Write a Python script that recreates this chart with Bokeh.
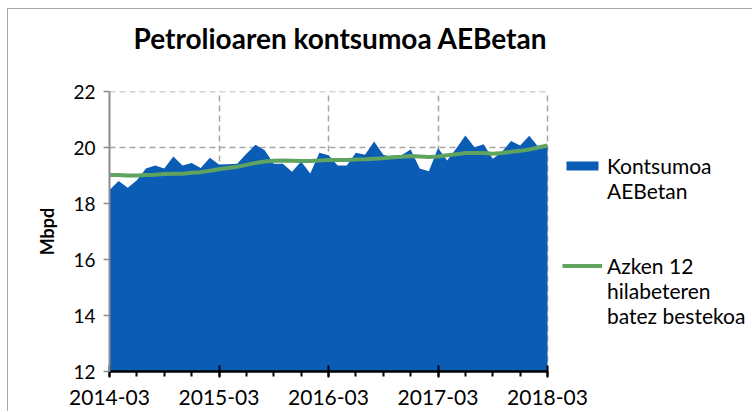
from bokeh.plotting import figure
from bokeh.models import (FixedTicker, Legend, LegendItem, Range1d, ColumnDataSource, Title)
from bokeh.embed import file_html
from bokeh.resources import INLINE

# ---- data ----
tick_labels = ["2014-03", "2015-03", "2016-03", "2017-03", "2018-03"]
months_count = 49  # 2014-03 .. 2018-03 monthly
consumption = [18.48, 18.80, 18.56, 18.83, 19.25, 19.36, 19.25, 19.68, 19.36, 19.45,
               19.27, 19.63, 19.39, 19.40, 19.42, 19.78, 20.10, 19.90, 19.42, 19.42,
               19.13, 19.50, 19.07, 19.81, 19.72, 19.36, 19.36, 19.81, 19.74, 20.21,
               19.74, 19.66, 19.72, 19.93, 19.25, 19.15, 19.98, 19.54, 19.96, 20.43,
               20.01, 20.12, 19.60, 19.84, 20.23, 20.07, 20.42, 20.02, 20.03]
moving_avg = [19.02, 19.02, 19.00, 19.00, 19.02, 19.03, 19.05, 19.06, 19.06, 19.10,
              19.12, 19.17, 19.22, 19.27, 19.31, 19.38, 19.45, 19.50, 19.53, 19.54,
              19.53, 19.52, 19.52, 19.54, 19.55, 19.55, 19.55, 19.57, 19.58, 19.60,
              19.62, 19.65, 19.67, 19.70, 19.68, 19.66, 19.68, 19.72, 19.76, 19.80,
              19.80, 19.80, 19.78, 19.80, 19.85, 19.88, 19.93, 20.00, 20.07]
series1_lines = ["Kontsumoa", "AEBetan"]
series2_lines = ["Azken 12", "hilabeteren", "batez bestekoa"]
y_ticks = [12, 14, 16, 18, 20, 22]

x = list(range(months_count))
src = ColumnDataSource(dict(x=x, cons=consumption, ma=moving_avg))

# layout (pixels): the frame is extended to the right so the legend can live inside it
FIG_W, FIG_H = 745, 403
LEFT, BOTTOM = 101, 41
DATA_W = 438                      # pixel width of the data area
FRAME_W = FIG_W - LEFT
last = months_count - 1
x_end = last * FRAME_W / DATA_W

FONT = "Lato"
p = figure(width=FIG_W, height=FIG_H, output_backend="svg", toolbar_location=None,
           x_range=Range1d(0, x_end), y_range=Range1d(y_ticks[0], y_ticks[-1]),
           min_border_left=LEFT, min_border_right=0, min_border_top=0,
           min_border_bottom=BOTTOM)
p.styles = {"margin-left": "7px", "margin-top": "8px",
            "border-left": "1px solid #a6a6a6", "border-top": "1px solid #a6a6a6"}
p.outline_line_color = None

GRID_COLOR = "#a6a6a6"
# horizontal grid lines limited to the data area
hg = ColumnDataSource(dict(y=y_ticks[1:]))
p.segment(x0=0, x1=last, y0="y", y1="y", source=hg, line_color=GRID_COLOR,
          line_width=1.5, line_dash="6 4")

area = p.varea(x="x", y1=0, y2="cons", source=src, fill_color="#0a5cb4")
line = p.line(x="x", y="ma", source=src, line_color="#5ea35f", line_width=4)
# invisible placeholder used only for the wrapped legend text rows
blank = p.line(x=[], y=[], line_alpha=0)

# spacer between the title and the plot frame
p.add_layout(Title(text=" ", text_font_size="2px", standoff=20), "above")

# title (outermost)
p.title.text = "Petrolioaren kontsumoa AEBetan"
p.title.text_font = FONT
p.title.text_font_size = "28px"
p.title.text_font_style = "bold"
p.title.text_color = "black"
p.title.align = "left"
p.title.vertical_align = "top"
p.title.offset = 24
p.title.standoff = 22

# x axis
major = [i * 12 for i in range(len(tick_labels))]
p.xaxis.bounds = (0, last)
p.xaxis.ticker = FixedTicker(ticks=major, minor_ticks=list(range(0, months_count, 3)))
p.xaxis.major_label_overrides = {m: t for m, t in zip(major, tick_labels)}
p.xaxis.axis_line_color = "black"
p.xaxis.axis_line_width = 2.5
p.xaxis.major_tick_line_color = "black"
p.xaxis.major_tick_line_width = 2
p.xaxis.major_tick_in = 6
p.xaxis.major_tick_out = 6
p.xaxis.minor_tick_line_color = "black"
p.xaxis.minor_tick_line_width = 2
p.xaxis.minor_tick_in = 0
p.xaxis.minor_tick_out = 5
p.xaxis.major_label_text_font = FONT
p.xaxis.major_label_text_font_size = "21px"
p.xaxis.major_label_text_color = "black"
p.xaxis.major_label_standoff = 12

# y axis
p.yaxis.ticker = FixedTicker(ticks=y_ticks, minor_ticks=[])
p.yaxis.axis_line_color = "#8c8c8c"
p.yaxis.axis_line_width = 2
p.yaxis.major_tick_line_color = "#8c8c8c"
p.yaxis.major_tick_line_width = 1.5
p.yaxis.major_tick_in = 0
p.yaxis.major_tick_out = 6
p.yaxis.major_label_text_font = FONT
p.yaxis.major_label_text_font_size = "19px"
p.yaxis.major_label_text_color = "black"
p.yaxis.major_label_standoff = 8
p.yaxis.axis_label = "Mbpd"
p.yaxis.axis_label_text_font = FONT
p.yaxis.axis_label_text_font_size = "18px"
p.yaxis.axis_label_text_font_style = "bold"
p.yaxis.axis_label_text_color = "black"
p.yaxis.axis_label_standoff = 12

# grid
p.ygrid.visible = False
p.xgrid.ticker = FixedTicker(ticks=major[1:])
p.xgrid.grid_line_color = GRID_COLOR
p.xgrid.grid_line_width = 1.5
p.xgrid.grid_line_dash = "6 4"

LEG_FS = "21px"
items = [LegendItem(label=series1_lines[0], renderers=[area]),
         LegendItem(label=series1_lines[1], renderers=[blank]),
         LegendItem(label=" ", renderers=[blank]),
         LegendItem(label="  ", renderers=[blank]),
         LegendItem(label=series2_lines[0], renderers=[line]),
         LegendItem(label=series2_lines[1], renderers=[blank]),
         LegendItem(label=series2_lines[2], renderers=[blank])]
legend = Legend(items=items, location=(DATA_W + 15, 43), border_line_color=None,
                background_fill_alpha=0, padding=0, margin=0, spacing=0,
                glyph_width=40, glyph_height=11, label_height=25,
                label_standoff=5, label_text_font=FONT, label_text_font_size=LEG_FS,
                label_text_color="black", label_text_line_height=1.0)
p.add_layout(legend, "center")

open("out.html", "w").write(file_html(p, INLINE))
